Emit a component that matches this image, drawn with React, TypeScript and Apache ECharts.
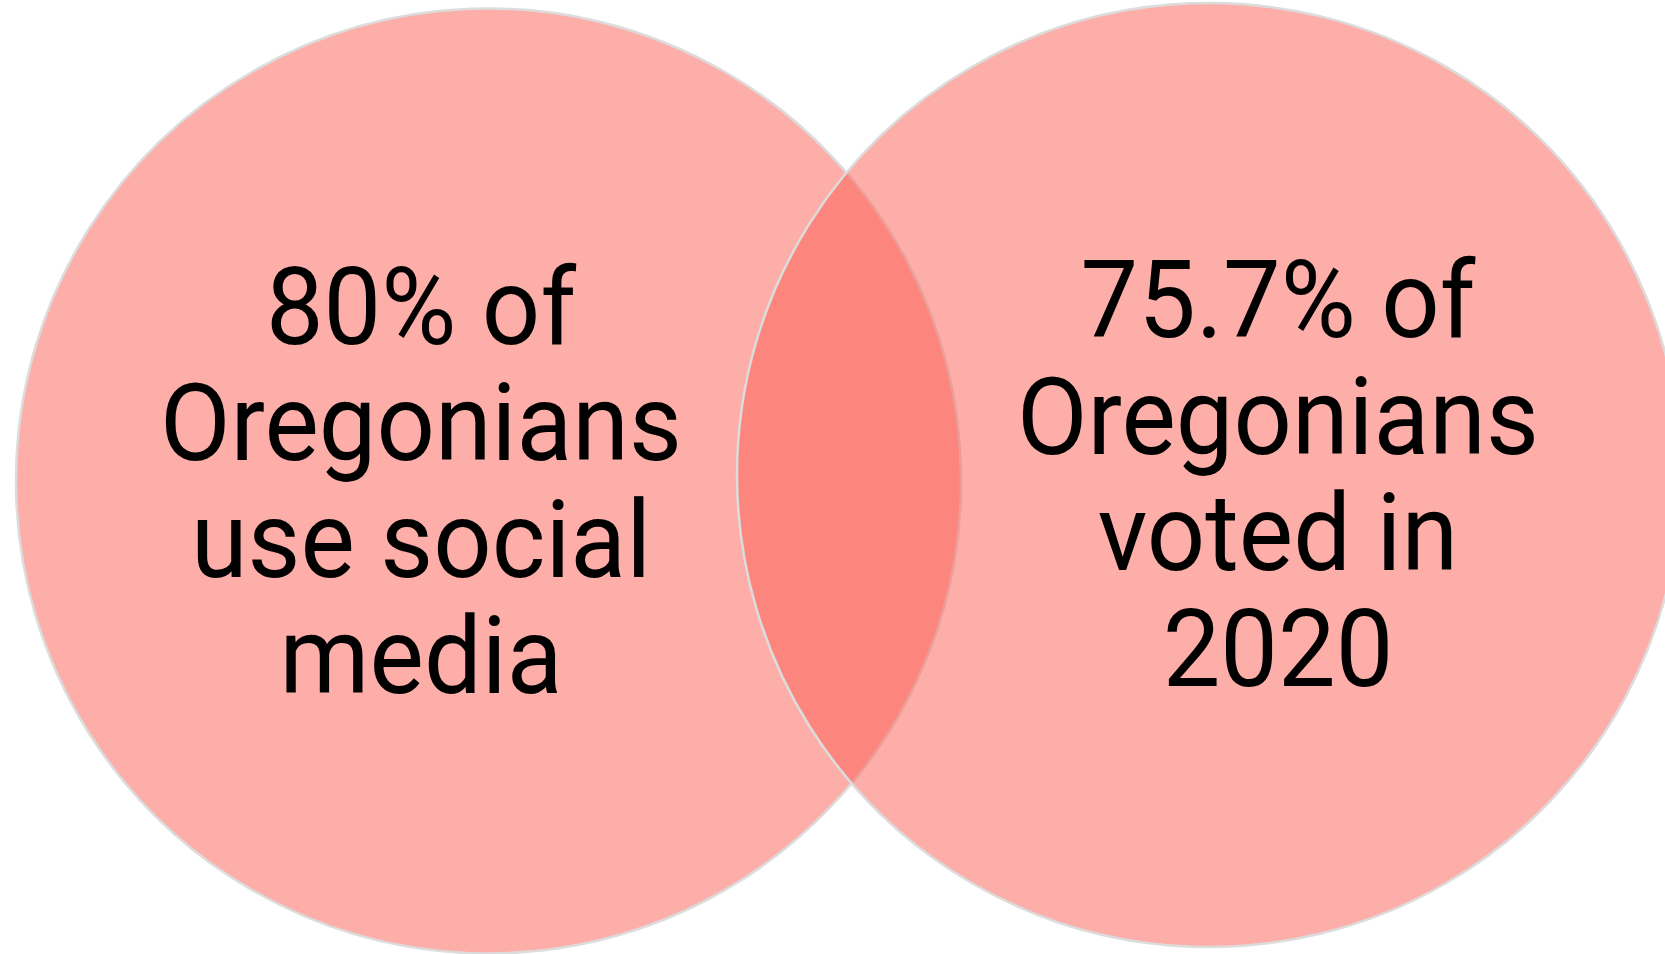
import React, { useEffect, useRef } from "react";
import * as echarts from "echarts";

// Data
const SET_NAMES = ["Oregonians who use social media", "Oregonians who voted in 2020"];
const SHARES = [80, 75.7];
const LEFT_LINES = [`${SHARES[0]}% of`, "Oregonians", "use social", "media"];
const RIGHT_LINES = [`${SHARES[1]}% of`, "Oregonians", "voted in", "2020"];

// Layout
const W = 1665;
const H = 954;
const CIRCLES = [
  { cx: 488.5, cy: 481, r: 472.5 },
  { cx: 1209, cy: 475, r: 472 },
];
const TEXT_BLOCKS = [
  { x: 421, firstMid: 307, lines: LEFT_LINES },
  { x: 1278, firstMid: 300.5, lines: RIGHT_LINES },
];
const LINE_HEIGHT = 116.3;
const FILL = "rgba(251, 93, 81, 0.5)";
const STROKE = "#dcdcdc";

export default function App() {
  const ref = useRef<HTMLDivElement>(null);
  useEffect(() => {
    document.body.style.margin = "0";
    const chart = echarts.init(ref.current!, undefined, { renderer: "svg" });
    const elements: any[] = [];
    CIRCLES.forEach((c, i) => {
      elements.push({
        type: "circle",
        name: SET_NAMES[i],
        shape: { cx: c.cx, cy: c.cy, r: c.r },
        style: { fill: FILL, stroke: STROKE, lineWidth: 2.5 },
        z: 1 + i,
      });
    });
    TEXT_BLOCKS.forEach((b) => {
      b.lines.forEach((line, j) => {
        elements.push({
          type: "text",
          x: b.x,
          y: b.firstMid + j * LINE_HEIGHT,
          scaleX: 0.95,
          z: 10,
          style: {
            text: line,
            x: 0,
            y: 0,
            fill: "#000",
            fontSize: 108,
            fontFamily: "Roboto, 'Noto Sans', sans-serif",
            fontWeight: 400,
            textAlign: "center",
            textVerticalAlign: "middle",
          },
        });
      });
    });
    chart.setOption({
      animation: false,
      backgroundColor: "#ffffff",
      graphic: { elements },
    });
    return () => chart.dispose();
  }, []);
  return <div ref={ref} style={{ width: W, height: H }} />;
}
